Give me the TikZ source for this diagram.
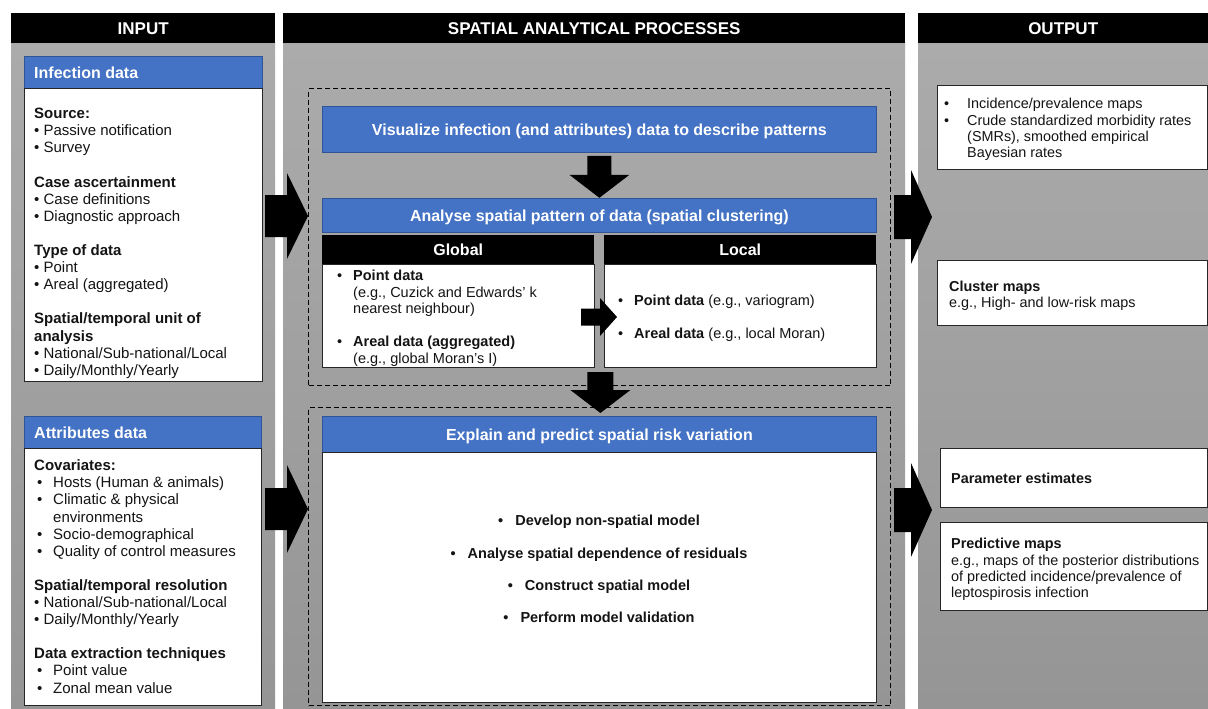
\documentclass[tikz,border=0pt]{standalone}
\usepackage{fontspec}
\setmainfont{Liberation Sans}
\usetikzlibrary{calc}
\definecolor{boxblue}{HTML}{4472C4}
\definecolor{boxblueline}{HTML}{2F5597}
\definecolor{paneltop}{HTML}{ABABAB}
\definecolor{panelbottom}{HTML}{959595}
\definecolor{ink}{HTML}{141414}
\definecolor{frame}{HTML}{262626}
% fixed height of the first line of a text block, so its baseline is known
\newcommand\lnstart{\rule{0pt}{11pt}}
% block arrow pointing right: tail centre, shaft length, head length, shaft half-height, head half-height
\newcommand\blockR[5]{%
  \fill[black] (#1) ++(0,-#4) -- ++(#2,0) -- ++(0,{#4-#5}) -- ++(#3,#5) -- ++(-#3,#5) -- ++(0,{#4-#5}) -- ++(-#2,0) -- cycle;}
% block arrow pointing down: tail centre, shaft length, head length, shaft half-width, head half-width
\newcommand\blockD[5]{%
  \fill[black] (#1) ++(-#4,0) -- ++(0,#2) -- ++({#4-#5},0) -- ++(#5,#3) -- ++(#5,-#3) -- ++({#4-#5},0) -- ++(0,-#2) -- cycle;}
\begin{document}
\begin{tikzpicture}[x=1pt,y=-1pt,
  panel/.style={top color=paneltop, bottom color=panelbottom, draw=none, anchor=north west, inner sep=0pt, outer sep=0pt},
  colhead/.style={fill=black, text=white, font=\bfseries\fontsize{17}{20}\selectfont, anchor=north west, inner sep=0pt, text height=12pt, text depth=0pt},
  bluebar/.style={fill=boxblue, draw=boxblueline, line width=0.8pt, text=white, font=\bfseries\fontsize{16}{19}\selectfont, anchor=north west, inner sep=0pt, text height=11.5pt, text depth=0pt},
  bluelabel/.style={text=white, font=\bfseries\fontsize{16}{19}\selectfont, inner sep=0pt, text height=11.5pt, text depth=0pt},
  subhead/.style={fill=black, text=white, font=\bfseries\fontsize{16}{19}\selectfont, anchor=north west, inner sep=0pt, text height=11.5pt, text depth=0pt},
  whitebox/.style={fill=white, draw=frame, line width=1.3pt, anchor=north west, inner sep=0pt},
  dashbox/.style={draw=black, line width=1.4pt, dash pattern=on 5pt off 3pt, anchor=north west, inner sep=0pt},
  txt/.style={text=ink, anchor=north west, inner sep=0pt, align=left, font=\fontsize{15}{17.1}\selectfont},
  smalltxt/.style={text=ink, anchor=north west, inner sep=0pt, align=left, font=\fontsize{14.5}{16.5}\selectfont},
  outtxt/.style={text=ink, anchor=north west, inner sep=0pt, align=left, font=\fontsize{14.4}{16.4}\selectfont},
  steptxt/.style={text=ink, anchor=north, inner sep=0pt, align=center, font=\bfseries\fontsize{14.5}{32.3}\selectfont}
]
\useasboundingbox (0,0) rectangle (1208,709);
\fill[white] (0,0) rectangle (1208,709);

% three column panels with their title bars
\node[panel, minimum width=264pt, minimum height=666pt] (pin) at (11,43) {};
\node[panel, minimum width=622pt, minimum height=666pt] (pmid) at (283,43) {};
\node[panel, minimum width=290pt, minimum height=666pt] (pout) at (918,43) {};
\node[colhead, minimum width=264pt, minimum height=30pt] (hin) at (11,13) {INPUT};
\node[colhead, minimum width=622pt, minimum height=30pt] (hmid) at (283,13) {SPATIAL ANALYTICAL PROCESSES};
\node[colhead, minimum width=290pt, minimum height=30pt] (hout) at (918,13) {OUTPUT};

% ---------- input column ----------
\node[bluebar, minimum width=238pt, minimum height=32pt] (infhead) at (24,56) {};
\node[bluelabel, anchor=west] (inflabel) at ($(infhead.west)+(10,0)$) {Infection data};
\node[whitebox, minimum width=238pt, minimum height=293pt] (infbox) at (24,88) {};
\node[txt] (inftext) at (34,107.5) {\lnstart\textbf{Source:}\\
• Passive notification\\
• Survey\\[17.1pt]
\textbf{Case ascertainment}\\
• Case definitions\\
• Diagnostic approach\\[17.1pt]
\textbf{Type of data}\\
• Point\\
• Areal (aggregated)\\[17.1pt]
\textbf{Spatial/temporal unit of}\\
\textbf{analysis}\\
• National/Sub-national/Local\\
• Daily/Monthly/Yearly};

\node[bluebar, minimum width=237pt, minimum height=32pt] (atthead) at (24,416) {};
\node[bluelabel, anchor=west] (attlabel) at ($(atthead.west)+(10,0)$) {Attributes data};
\node[whitebox, minimum width=237pt, minimum height=257pt] (attbox) at (24,448) {};
\node[txt] (atttext) at (34,459.5) {\lnstart\textbf{Covariates:}\\
\hspace*{3pt}\makebox[16pt][l]{•}Hosts (Human \& animals)\\
\hspace*{3pt}\makebox[16pt][l]{•}Climatic \& physical\\
\hspace*{19pt}environments\\
\hspace*{3pt}\makebox[16pt][l]{•}Socio-demographical\\
\hspace*{3pt}\makebox[16pt][l]{•}Quality of control measures\\[17.1pt]
\textbf{Spatial/temporal resolution}\\
• National/Sub-national/Local\\
• Daily/Monthly/Yearly\\[17.1pt]
\textbf{Data extraction techniques}\\
\hspace*{3pt}\makebox[16pt][l]{•}Point value\\
\hspace*{3pt}\makebox[16pt][l]{•}Zonal mean value};

% ---------- spatial analytical processes ----------
\node[dashbox, minimum width=582pt, minimum height=297pt] (dashA) at (308,88) {};
\node[bluebar, minimum width=554pt, minimum height=46pt] (vis) at (322,106) {Visualize infection (and attributes) data to describe patterns};
\node[bluebar, minimum width=554pt, minimum height=34pt] (ana) at (322,198) {Analyse spatial pattern of data (spatial clustering)};
\node[subhead, minimum width=272pt, minimum height=29pt] (glh) at (322,235) {Global};
\node[whitebox, minimum width=272pt, minimum height=103pt] (glb) at (322,264) {};
\node[subhead, minimum width=272pt, minimum height=29pt] (loh) at (604,235) {Local};
\node[whitebox, minimum width=272pt, minimum height=103pt] (lob) at (604,264) {};
\node[smalltxt] (gltext) at (337,269.5) {\lnstart\makebox[16pt][l]{•}\textbf{Point data}\\
\hspace*{16pt}(e.g., Cuzick and Edwards' k\\
\hspace*{16pt}nearest neighbour)\\[16.5pt]
\makebox[16pt][l]{•}\textbf{Areal data (aggregated)}\\
\hspace*{16pt}(e.g., global Moran's I)};
\node[smalltxt, font=\fontsize{14.5}{33.5}\selectfont] (lotext) at (618,294) {\lnstart\makebox[16pt][l]{•}\textbf{Point data} (e.g., variogram)\\
\makebox[16pt][l]{•}\textbf{Areal data} (e.g., local Moran)};

\node[dashbox, minimum width=582pt, minimum height=298pt] (dashB) at (308,407) {};
\node[bluebar, minimum width=554pt, minimum height=36pt] (expl) at (322,416) {Explain and predict spatial risk variation};
\node[whitebox, minimum width=554pt, minimum height=250pt] (explbox) at (322,452) {};
\node[steptxt] (expltext) at (599,514.5) {\lnstart•\hspace{12pt}Develop non-spatial model\\
•\hspace{12pt}Analyse spatial dependence of residuals\\
•\hspace{12pt}Construct spatial model\\
•\hspace{12pt}Perform model validation};

% ---------- output column ----------
\node[whitebox, minimum width=270pt, minimum height=84pt] (out1) at (937,85) {};
\node[outtxt] (out1text) at (944,97.5) {\lnstart\makebox[23pt][l]{•}Incidence/prevalence maps\\
\makebox[23pt][l]{•}Crude standardized morbidity rates\\
\hspace*{23pt}(SMRs), smoothed empirical\\
\hspace*{23pt}Bayesian rates};
\node[whitebox, minimum width=270pt, minimum height=65pt] (out2) at (937,260) {};
\node[outtxt, font=\fontsize{14.4}{16}\selectfont] (out2text) at (949,280.5) {\lnstart\textbf{Cluster maps}\\
e.g., High- and low-risk maps};
\node[whitebox, minimum width=267pt, minimum height=59pt] (out3) at (940,448) {};
\node[outtxt] (out3text) at (951,472.5) {\lnstart\textbf{Parameter estimates}};
\node[whitebox, minimum width=267pt, minimum height=88pt] (out4) at (940,522) {};
\node[outtxt] (out4text) at (951,537.5) {\lnstart\textbf{Predictive maps}\\
e.g., maps of the posterior distributions\\
of predicted incidence/prevalence of\\
leptospirosis infection};

% ---------- block arrows ----------
\coordinate (a1) at (265,216);
\blockR{a1}{22}{21}{21}{43}
\coordinate (a2) at (265,509);
\blockR{a2}{22}{21}{21}{44}
\coordinate (a3) at (894,217);
\blockR{a3}{17}{21}{22}{47}
\coordinate (a4) at (894,510);
\blockR{a4}{17}{21}{22}{47}
\coordinate (d1) at ($(vis.south)+(0,3)$);
\blockD{d1}{19}{23}{12}{30}
\coordinate (d2) at ($(expl.north)+(1,-44)$);
\blockD{d2}{18}{23}{13}{30}
\coordinate (r1) at (581,317);
\blockR{r1}{19}{17}{8.5}{19}
\end{tikzpicture}
\end{document}
